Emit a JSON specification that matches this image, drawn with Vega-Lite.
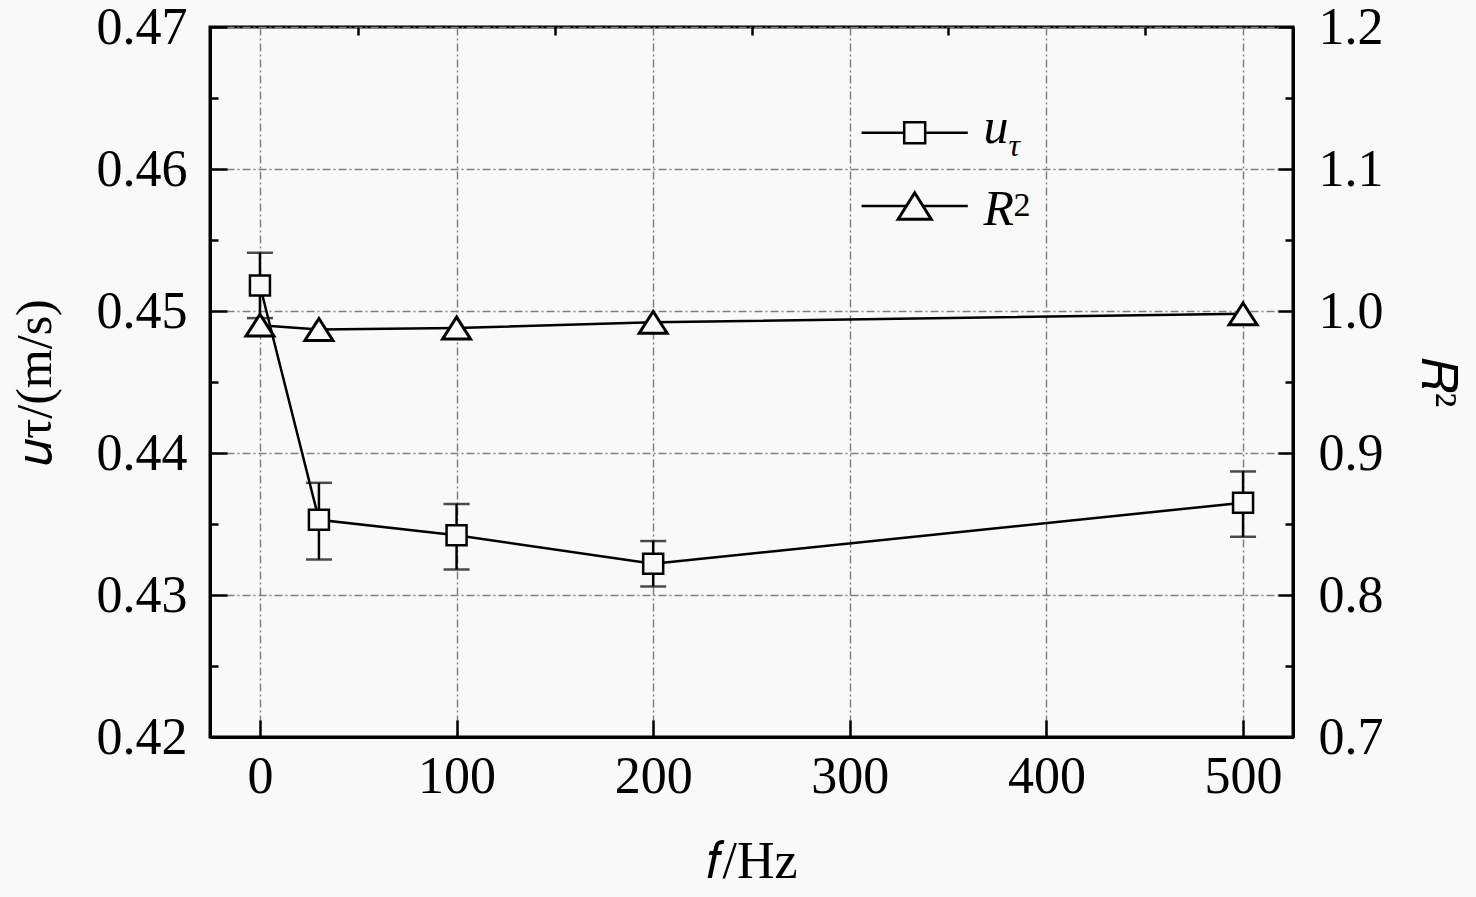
{
  "$schema": "https://vega.github.io/schema/vega-lite/v6.json",
  "width": 1083,
  "height": 710,
  "autosize": "none",
  "padding": {"left": 210, "top": 27, "right": 183, "bottom": 160},
  "background": "#f9f9f9",
  "config": {
    "view": {"stroke": "black", "strokeWidth": 3},
    "font": "Liberation Serif",
    "axis": {
      "domainColor": "black",
      "domainWidth": 3,
      "tickColor": "black",
      "tickWidth": 2.5,
      "labelFont": "Liberation Serif",
      "labelFontSize": 52,
      "labelColor": "black",
      "titleFont": "Liberation Serif",
      "titleFontSize": 50,
      "titleFontWeight": "normal",
      "titleColor": "black",
      "gridColor": "#808080",
      "gridWidth": 1.5,
      "gridDash": [8, 3, 2, 3]
    }
  },
  "datasets": {
    "ut": [
      {"f": 0, "u": 0.4518, "lo": 0.4495, "hi": 0.4541},
      {"f": 30, "u": 0.4353, "lo": 0.4325, "hi": 0.4379},
      {"f": 100, "u": 0.4342, "lo": 0.4318, "hi": 0.4364},
      {"f": 200, "u": 0.4322, "lo": 0.4306, "hi": 0.4338},
      {"f": 500, "u": 0.4365, "lo": 0.4341, "hi": 0.4387}
    ],
    "r2": [
      {"f": 0, "r2": 0.990},
      {"f": 30, "r2": 0.987},
      {"f": 100, "r2": 0.988},
      {"f": 200, "r2": 0.992},
      {"f": 500, "r2": 0.998}
    ],
    "legU": [{"x1": 306, "x2": 360, "xm": 333, "xt": 368, "y": 0.46256}],
    "legR": [{"x1": 306, "x2": 360, "xm": 333, "xt": 368, "y": 0.45739}]
  },
  "layer": [
    {
      "data": {"name": "ut"},
      "encoding": {
        "x": {
          "field": "f",
          "type": "quantitative",
          "scale": {"domain": [-25.4, 525.4], "nice": false, "zero": false},
          "axis": {
            "values": [0, 100, 200, 300, 400, 500],
            "format": "d",
            "tickSize": -17,
            "labelPadding": 31,
            "grid": true,
            "title": "𝑓/Hz",
            "titleFontSize": 52,
            "titlePadding": 34
          }
        }
      },
      "layer": [
        {
          "mark": {
            "type": "errorbar",
            "color": "black",
            "rule": {"strokeWidth": 2.5},
            "ticks": {"size": 26, "thickness": 2.5}
          },
          "encoding": {
            "y": {
              "field": "lo",
              "type": "quantitative",
              "scale": {"domain": [0.42, 0.47], "nice": false, "zero": false},
              "axis": {
                "orient": "left",
                "values": [0.42, 0.43, 0.44, 0.45, 0.46, 0.47],
                "format": ".2f",
                "tickSize": -17,
                "labelPadding": 40,
                "grid": true,
                "title": "𝑢τ/(m/s)",
                "titlePadding": 36
              }
            },
            "y2": {"field": "hi"}
          }
        },
        {
          "mark": {"type": "line", "color": "black", "strokeWidth": 2.5},
          "encoding": {
            "y": {"field": "u", "type": "quantitative", "scale": {"domain": [0.42, 0.47], "nice": false, "zero": false}}
          }
        },
        {
          "mark": {"type": "point", "shape": "square", "size": 400, "filled": true, "fill": "#f9f9f9", "stroke": "black", "strokeWidth": 2.5, "opacity": 1},
          "encoding": {
            "y": {"field": "u", "type": "quantitative", "scale": {"domain": [0.42, 0.47], "nice": false, "zero": false}}
          }
        }
      ]
    },
    {
      "data": {"name": "r2"},
      "encoding": {
        "x": {
          "field": "f",
          "type": "quantitative",
          "scale": {"domain": [-25.4, 525.4], "nice": false, "zero": false},
          "axis": null
        },
        "y": {
          "field": "r2",
          "type": "quantitative",
          "scale": {"domain": [0.7, 1.2], "nice": false, "zero": false},
          "axis": {
            "orient": "right",
            "values": [0.7, 0.8, 0.9, 1.0, 1.1, 1.2],
            "format": ".1f",
            "tickSize": -15,
            "labelPadding": 40,
            "grid": false,
            "title": "𝑅²",
            "titlePadding": 28
          }
        }
      },
      "layer": [
        {"mark": {"type": "line", "color": "black", "strokeWidth": 2.5}},
        {"mark": {"type": "point", "shape": "M-1,0.78H1L0,-0.78Z", "size": 784, "filled": true, "fill": "#f9f9f9", "stroke": "black", "strokeWidth": 3, "opacity": 1}}
      ]
    },
    {
      "data": {"name": "ut"},
      "mark": {"type": "point", "opacity": 0},
      "encoding": {
        "x": {
          "field": "f",
          "type": "quantitative",
          "scale": {"domain": [-25.4, 525.4], "nice": false, "zero": false},
          "axis": {"values": [50, 150, 250, 350, 450], "tickSize": -8, "labels": false, "domain": false, "grid": false, "title": null}
        },
        "y": {
          "field": "u",
          "type": "quantitative",
          "scale": {"domain": [0.42, 0.47], "nice": false, "zero": false},
          "axis": {"orient": "left", "values": [0.425, 0.435, 0.445, 0.455, 0.465], "tickSize": -8, "labels": false, "domain": false, "grid": false, "title": null}
        }
      }
    },
    {
      "data": {"name": "r2"},
      "mark": {"type": "point", "opacity": 0},
      "encoding": {
        "x": {
          "field": "f",
          "type": "quantitative",
          "scale": {"domain": [-25.4, 525.4], "nice": false, "zero": false},
          "axis": null
        },
        "y": {
          "field": "r2",
          "type": "quantitative",
          "scale": {"domain": [0.7, 1.2], "nice": false, "zero": false},
          "axis": {"orient": "right", "values": [0.75, 0.85, 0.95, 1.05, 1.15], "tickSize": -8, "labels": false, "domain": false, "grid": false, "title": null}
        }
      }
    },
    {
      "encoding": {
        "y": {"field": "y", "type": "quantitative", "scale": {"domain": [0.42, 0.47], "nice": false, "zero": false}, "axis": null}
      },
      "layer": [
        {
          "data": {"name": "legU"},
          "mark": {"type": "rule", "color": "black", "strokeWidth": 2.5},
          "encoding": {
            "x": {"field": "x1", "type": "quantitative", "scale": {"domain": [-25.4, 525.4], "nice": false, "zero": false}, "axis": null},
            "x2": {"field": "x2"}
          }
        },
        {
          "data": {"name": "legR"},
          "mark": {"type": "rule", "color": "black", "strokeWidth": 2.5},
          "encoding": {
            "x": {"field": "x1", "type": "quantitative", "scale": {"domain": [-25.4, 525.4], "nice": false, "zero": false}, "axis": null},
            "x2": {"field": "x2"}
          }
        },
        {
          "data": {"name": "legU"},
          "mark": {"type": "point", "shape": "square", "size": 440, "filled": true, "fill": "#f9f9f9", "stroke": "black", "strokeWidth": 2.5, "opacity": 1},
          "encoding": {"x": {"field": "xm", "type": "quantitative", "axis": null}}
        },
        {
          "data": {"name": "legR"},
          "mark": {"type": "point", "shape": "M-1,0.8H1L0,-0.8Z", "size": 1100, "filled": true, "fill": "#f9f9f9", "stroke": "black", "strokeWidth": 3, "opacity": 1},
          "encoding": {"x": {"field": "xm", "type": "quantitative", "axis": null}}
        },
        {
          "data": {"name": "legU"},
          "mark": {"type": "text", "text": "u", "font": "Liberation Serif", "fontStyle": "italic", "fontSize": 50, "align": "left", "baseline": "alphabetic", "dy": 10, "color": "black"},
          "encoding": {"x": {"field": "xt", "type": "quantitative", "axis": null}}
        },
        {
          "data": {"name": "legU"},
          "mark": {"type": "text", "text": "τ", "font": "Liberation Serif", "fontStyle": "italic", "fontSize": 32, "align": "left", "baseline": "alphabetic", "dx": 25, "dy": 23, "color": "black"},
          "encoding": {"x": {"field": "xt", "type": "quantitative", "axis": null}}
        },
        {
          "data": {"name": "legR"},
          "mark": {"type": "text", "text": "R", "font": "Liberation Serif", "fontStyle": "italic", "fontSize": 50, "align": "left", "baseline": "alphabetic", "dy": 19, "color": "black"},
          "encoding": {"x": {"field": "xt", "type": "quantitative", "axis": null}}
        },
        {
          "data": {"name": "legR"},
          "mark": {"type": "text", "text": "2", "font": "Liberation Serif", "fontSize": 34, "align": "left", "baseline": "alphabetic", "dx": 30, "dy": 10, "color": "black"},
          "encoding": {"x": {"field": "xt", "type": "quantitative", "axis": null}}
        }
      ]
    }
  ],
  "resolve": {
    "scale": {"y": "independent"},
    "axis": {"x": "independent", "y": "independent"}
  }
}
